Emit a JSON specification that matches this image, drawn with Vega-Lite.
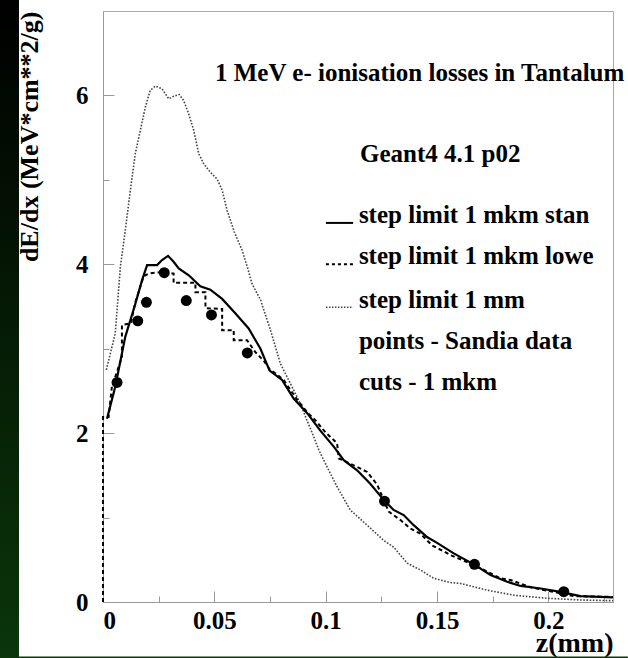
{
  "$schema": "https://vega.github.io/schema/vega-lite/v6.json",
  "width": 510,
  "height": 591,
  "autosize": "none",
  "padding": {"left": 103, "top": 11, "right": 15, "bottom": 56},
  "background": "white",
  "config": {
    "font": "Liberation Serif",
    "view": {"stroke": "#aaaaaa", "strokeWidth": 1},
    "axis": {
      "grid": false,
      "domainColor": "#999999",
      "tickColor": "#999999",
      "labelFont": "Liberation Serif",
      "labelFontWeight": "bold",
      "labelFontSize": 25,
      "labelColor": "black",
      "titleFont": "Liberation Serif",
      "titleFontWeight": "bold",
      "titleFontSize": 26,
      "titleColor": "black"
    }
  },
  "datasets": {
    "curves": [
      {"series": "stan", "z": 0.0018, "v": 2.17},
      {"series": "stan", "z": 0.0055, "v": 2.55},
      {"series": "stan", "z": 0.010, "v": 3.14},
      {"series": "stan", "z": 0.0145, "v": 3.53},
      {"series": "stan", "z": 0.0175, "v": 3.81},
      {"series": "stan", "z": 0.0198, "v": 3.99},
      {"series": "stan", "z": 0.0243, "v": 3.99},
      {"series": "stan", "z": 0.0265, "v": 4.05},
      {"series": "stan", "z": 0.0292, "v": 4.10},
      {"series": "stan", "z": 0.0317, "v": 4.03},
      {"series": "stan", "z": 0.034, "v": 3.95},
      {"series": "stan", "z": 0.0385, "v": 3.87},
      {"series": "stan", "z": 0.0437, "v": 3.74},
      {"series": "stan", "z": 0.0482, "v": 3.70},
      {"series": "stan", "z": 0.0535, "v": 3.59},
      {"series": "stan", "z": 0.0594, "v": 3.42},
      {"series": "stan", "z": 0.0654, "v": 3.24},
      {"series": "stan", "z": 0.0707, "v": 3.00},
      {"series": "stan", "z": 0.0748, "v": 2.74},
      {"series": "stan", "z": 0.0804, "v": 2.63},
      {"series": "stan", "z": 0.0856, "v": 2.41},
      {"series": "stan", "z": 0.0916, "v": 2.24},
      {"series": "stan", "z": 0.0976, "v": 2.03},
      {"series": "stan", "z": 0.1036, "v": 1.84},
      {"series": "stan", "z": 0.1081, "v": 1.68},
      {"series": "stan", "z": 0.1141, "v": 1.56},
      {"series": "stan", "z": 0.120, "v": 1.40},
      {"series": "stan", "z": 0.126, "v": 1.21},
      {"series": "stan", "z": 0.1305, "v": 1.09},
      {"series": "stan", "z": 0.135, "v": 1.03},
      {"series": "stan", "z": 0.1395, "v": 0.91},
      {"series": "stan", "z": 0.1455, "v": 0.77},
      {"series": "stan", "z": 0.150, "v": 0.70},
      {"series": "stan", "z": 0.1575, "v": 0.576},
      {"series": "stan", "z": 0.1665, "v": 0.446},
      {"series": "stan", "z": 0.174, "v": 0.32},
      {"series": "stan", "z": 0.1815, "v": 0.24},
      {"series": "stan", "z": 0.1875, "v": 0.19},
      {"series": "stan", "z": 0.1965, "v": 0.16},
      {"series": "stan", "z": 0.2054, "v": 0.12},
      {"series": "stan", "z": 0.2144, "v": 0.07},
      {"series": "stan", "z": 0.229, "v": 0.055},

      {"series": "lowe", "z": 0.0, "v": 0.0},
      {"series": "lowe", "z": 0.0, "v": 2.19},
      {"series": "lowe", "z": 0.0025, "v": 2.19},
      {"series": "lowe", "z": 0.004, "v": 2.55},
      {"series": "lowe", "z": 0.0085, "v": 2.90},
      {"series": "lowe", "z": 0.0085, "v": 3.28},
      {"series": "lowe", "z": 0.0125, "v": 3.30},
      {"series": "lowe", "z": 0.0145, "v": 3.55},
      {"series": "lowe", "z": 0.0183, "v": 3.86},
      {"series": "lowe", "z": 0.0205, "v": 3.89},
      {"series": "lowe", "z": 0.0265, "v": 3.91},
      {"series": "lowe", "z": 0.0317, "v": 3.89},
      {"series": "lowe", "z": 0.0317, "v": 3.78},
      {"series": "lowe", "z": 0.0415, "v": 3.78},
      {"series": "lowe", "z": 0.0415, "v": 3.67},
      {"series": "lowe", "z": 0.046, "v": 3.67},
      {"series": "lowe", "z": 0.046, "v": 3.48},
      {"series": "lowe", "z": 0.0535, "v": 3.47},
      {"series": "lowe", "z": 0.0535, "v": 3.22},
      {"series": "lowe", "z": 0.0587, "v": 3.22},
      {"series": "lowe", "z": 0.0587, "v": 3.10},
      {"series": "lowe", "z": 0.0647, "v": 3.10},
      {"series": "lowe", "z": 0.0684, "v": 2.96},
      {"series": "lowe", "z": 0.0721, "v": 2.86},
      {"series": "lowe", "z": 0.075, "v": 2.75},
      {"series": "lowe", "z": 0.0774, "v": 2.71},
      {"series": "lowe", "z": 0.0811, "v": 2.63},
      {"series": "lowe", "z": 0.0871, "v": 2.40},
      {"series": "lowe", "z": 0.0916, "v": 2.25},
      {"series": "lowe", "z": 0.0954, "v": 2.15},
      {"series": "lowe", "z": 0.0999, "v": 2.01},
      {"series": "lowe", "z": 0.1051, "v": 1.88},
      {"series": "lowe", "z": 0.1059, "v": 1.70},
      {"series": "lowe", "z": 0.1141, "v": 1.60},
      {"series": "lowe", "z": 0.1186, "v": 1.54},
      {"series": "lowe", "z": 0.1231, "v": 1.39},
      {"series": "lowe", "z": 0.1283, "v": 1.07},
      {"series": "lowe", "z": 0.1336, "v": 0.97},
      {"series": "lowe", "z": 0.138, "v": 0.87},
      {"series": "lowe", "z": 0.1425, "v": 0.81},
      {"series": "lowe", "z": 0.1478, "v": 0.67},
      {"series": "lowe", "z": 0.153, "v": 0.60},
      {"series": "lowe", "z": 0.156, "v": 0.556},
      {"series": "lowe", "z": 0.1665, "v": 0.44},
      {"series": "lowe", "z": 0.1785, "v": 0.28},
      {"series": "lowe", "z": 0.183, "v": 0.26},
      {"series": "lowe", "z": 0.1925, "v": 0.17},
      {"series": "lowe", "z": 0.2024, "v": 0.12},
      {"series": "lowe", "z": 0.2114, "v": 0.07},
      {"series": "lowe", "z": 0.2234, "v": 0.063},
      {"series": "lowe", "z": 0.229, "v": 0.06},

      {"series": "mm", "z": 0.0015, "v": 2.75},
      {"series": "mm", "z": 0.0055, "v": 3.18},
      {"series": "mm", "z": 0.0078, "v": 3.97},
      {"series": "mm", "z": 0.010, "v": 4.40},
      {"series": "mm", "z": 0.0123, "v": 4.88},
      {"series": "mm", "z": 0.0145, "v": 5.31},
      {"series": "mm", "z": 0.0168, "v": 5.59},
      {"series": "mm", "z": 0.019, "v": 5.86},
      {"series": "mm", "z": 0.0212, "v": 6.06},
      {"series": "mm", "z": 0.0235, "v": 6.11},
      {"series": "mm", "z": 0.0265, "v": 6.08},
      {"series": "mm", "z": 0.0295, "v": 5.96},
      {"series": "mm", "z": 0.0317, "v": 5.99},
      {"series": "mm", "z": 0.0343, "v": 6.01},
      {"series": "mm", "z": 0.0362, "v": 5.94},
      {"series": "mm", "z": 0.0385, "v": 5.78},
      {"series": "mm", "z": 0.0407, "v": 5.59},
      {"series": "mm", "z": 0.043, "v": 5.31},
      {"series": "mm", "z": 0.0452, "v": 5.19},
      {"series": "mm", "z": 0.0482, "v": 5.09},
      {"series": "mm", "z": 0.0512, "v": 5.01},
      {"series": "mm", "z": 0.0535, "v": 4.88},
      {"series": "mm", "z": 0.0557, "v": 4.64},
      {"series": "mm", "z": 0.0590, "v": 4.38},
      {"series": "mm", "z": 0.0624, "v": 4.17},
      {"series": "mm", "z": 0.0650, "v": 3.95},
      {"series": "mm", "z": 0.0669, "v": 3.77},
      {"series": "mm", "z": 0.0707, "v": 3.58},
      {"series": "mm", "z": 0.0752, "v": 3.22},
      {"series": "mm", "z": 0.0797, "v": 2.82},
      {"series": "mm", "z": 0.0841, "v": 2.59},
      {"series": "mm", "z": 0.0886, "v": 2.35},
      {"series": "mm", "z": 0.0916, "v": 2.15},
      {"series": "mm", "z": 0.0946, "v": 1.96},
      {"series": "mm", "z": 0.0969, "v": 1.80},
      {"series": "mm", "z": 0.1006, "v": 1.60},
      {"series": "mm", "z": 0.1051, "v": 1.365},
      {"series": "mm", "z": 0.111, "v": 1.09},
      {"series": "mm", "z": 0.1186, "v": 0.91},
      {"series": "mm", "z": 0.126, "v": 0.73},
      {"series": "mm", "z": 0.1305, "v": 0.65},
      {"series": "mm", "z": 0.1366, "v": 0.46},
      {"series": "mm", "z": 0.1425, "v": 0.38},
      {"series": "mm", "z": 0.1485, "v": 0.28},
      {"series": "mm", "z": 0.156, "v": 0.23},
      {"series": "mm", "z": 0.1605, "v": 0.22},
      {"series": "mm", "z": 0.1725, "v": 0.14},
      {"series": "mm", "z": 0.1845, "v": 0.08},
      {"series": "mm", "z": 0.1995, "v": 0.044},
      {"series": "mm", "z": 0.2144, "v": 0.024},
      {"series": "mm", "z": 0.229, "v": 0.015}
    ],
    "sandia": [
      {"z": 0.0063, "v": 2.60},
      {"z": 0.0156, "v": 3.33},
      {"z": 0.0195, "v": 3.55},
      {"z": 0.0275, "v": 3.90},
      {"z": 0.0374, "v": 3.57},
      {"z": 0.0487, "v": 3.40},
      {"z": 0.0648, "v": 2.95},
      {"z": 0.1264, "v": 1.195},
      {"z": 0.1668, "v": 0.446},
      {"z": 0.2069, "v": 0.122}
    ],
    "notes": [
      {"z": 0.0503, "v": 6.17, "text": "1 MeV e- ionisation losses in Tantalum"},
      {"z": 0.1154, "v": 5.21, "text": "Geant4 4.1 p02"},
      {"z": 0.1149, "v": 4.49, "text": "step limit 1 mkm stan"},
      {"z": 0.1149, "v": 4.00, "text": "step limit 1 mkm lowe"},
      {"z": 0.1149, "v": 3.48, "text": "step limit 1 mm"},
      {"z": 0.1149, "v": 3.00, "text": "points - Sandia data"},
      {"z": 0.1149, "v": 2.51, "text": "cuts - 1 mkm"}
    ]
  },
  "layer": [
    {
      "data": {"values": [{}]},
      "mark": {"type": "rect", "clip": false, "color": {"gradient": "linear", "x1": 0, "y1": 0, "x2": 0, "y2": 1, "stops": [{"offset": 0, "color": "#000000"}, {"offset": 1, "color": "#0a360a"}]}},
      "encoding": {
        "x": {"datum": -0.04625, "type": "quantitative", "scale": {"domain": [0, 0.229], "nice": false, "zero": false}},
        "x2": {"datum": -0.03772},
        "y": {"datum": 7.13, "type": "quantitative", "scale": {"domain": [0, 7], "nice": false, "zero": false}},
        "y2": {"datum": -0.663}
      }
    },
    {
      "data": {"values": [{}]},
      "mark": {"type": "rect", "clip": false, "color": "#0a360a"},
      "encoding": {
        "x": {"datum": -0.04625, "type": "quantitative"},
        "x2": {"datum": 0.2357},
        "y": {"datum": -0.645, "type": "quantitative"},
        "y2": {"datum": -0.663}
      }
    },
    {
      "data": {"name": "curves"},
      "transform": [{"filter": "datum.series === 'mm'"}],
      "mark": {"type": "line", "color": "#444444", "strokeWidth": 1.6, "strokeDash": [1.6, 1.6]},
      "encoding": {
        "x": {"field": "z", "type": "quantitative",
          "axis": {
            "title": "z(mm)", "titleAnchor": "end", "titleFontSize": 28,
            "titleBaseline": "alphabetic", "titleY": 49,
            "values": [0, 0.025, 0.05, 0.075, 0.1, 0.125, 0.15, 0.175, 0.2, 0.225],
            "format": ".2~f",
            "labelExpr": "abs(datum.value/0.05 - round(datum.value/0.05)) < 1e-6 ? datum.label : ''",
            "tickSize": {"condition": {"test": "abs(datum.value/0.05 - round(datum.value/0.05)) < 1e-6", "value": -11}, "value": -6},
            "labelPadding": 17
          }
        },
        "y": {"field": "v", "type": "quantitative",
          "axis": {
            "title": "dE/dx (MeV*cm**2/g)", "titleAnchor": "end", "titlePadding": 33,
            "values": [0, 1, 2, 3, 4, 5, 6],
            "format": "d",
            "labelExpr": "datum.value % 2 === 0 ? datum.label : ''",
            "tickSize": {"condition": {"test": "datum.value % 2 === 0", "value": -11}, "value": -6},
            "labelPadding": 26
          }
        }
      }
    },
    {
      "data": {"name": "curves"},
      "transform": [{"filter": "datum.series === 'lowe'"}],
      "mark": {"type": "line", "color": "black", "strokeWidth": 2, "strokeDash": [4, 3]},
      "encoding": {
        "x": {"field": "z", "type": "quantitative"},
        "y": {"field": "v", "type": "quantitative"}
      }
    },
    {
      "data": {"name": "curves"},
      "transform": [{"filter": "datum.series === 'stan'"}],
      "mark": {"type": "line", "color": "black", "strokeWidth": 2.2},
      "encoding": {
        "x": {"field": "z", "type": "quantitative"},
        "y": {"field": "v", "type": "quantitative"}
      }
    },
    {
      "data": {"name": "sandia"},
      "mark": {"type": "point", "shape": "circle", "filled": true, "color": "black", "size": 120, "opacity": 1},
      "encoding": {
        "x": {"field": "z", "type": "quantitative"},
        "y": {"field": "v", "type": "quantitative"}
      }
    },
    {
      "data": {"name": "notes"},
      "mark": {"type": "text", "font": "Liberation Serif", "fontWeight": "bold", "fontSize": 25, "align": "left", "baseline": "alphabetic", "color": "black"},
      "encoding": {
        "x": {"field": "z", "type": "quantitative"},
        "y": {"field": "v", "type": "quantitative"},
        "text": {"field": "text"}
      }
    },
    {
      "data": {"values": [{}]},
      "mark": {"type": "rule", "color": "black", "strokeWidth": 2},
      "encoding": {"x": {"datum": 0.1001, "type": "quantitative"}, "x2": {"datum": 0.1123}, "y": {"datum": 4.49, "type": "quantitative"}}
    },
    {
      "data": {"values": [{}]},
      "mark": {"type": "rule", "color": "black", "strokeWidth": 2, "strokeDash": [3, 3]},
      "encoding": {"x": {"datum": 0.1001, "type": "quantitative"}, "x2": {"datum": 0.1123}, "y": {"datum": 4.00, "type": "quantitative"}}
    },
    {
      "data": {"values": [{}]},
      "mark": {"type": "rule", "color": "#444444", "strokeWidth": 1.5, "strokeDash": [1.5, 1.5]},
      "encoding": {"x": {"datum": 0.1001, "type": "quantitative"}, "x2": {"datum": 0.1123}, "y": {"datum": 3.49, "type": "quantitative"}}
    }
  ]
}
